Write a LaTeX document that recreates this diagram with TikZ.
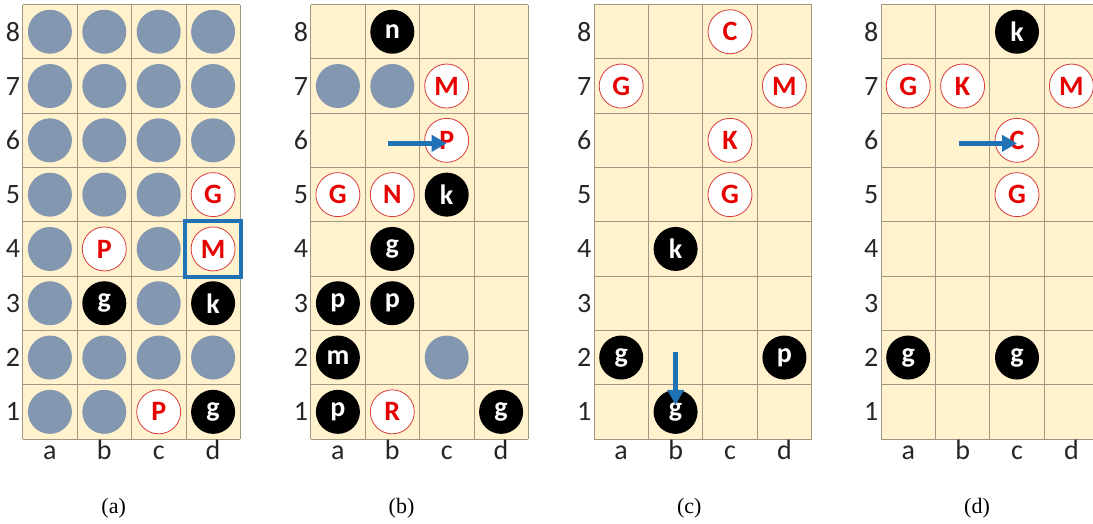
\documentclass[tikz,border=0pt]{standalone}
\usepackage{fontspec}
\setmainfont{Carlito}
\newfontfamily\capfont{Liberation Serif}
\usetikzlibrary{arrows.meta}
\definecolor{cBoard}{RGB}{255,242,204}
\definecolor{cGrid}{RGB}{160,150,130}
\definecolor{cHid}{RGB}{132,151,176}
\definecolor{cRed}{RGB}{230,0,0}
\definecolor{cRing}{RGB}{215,60,60}
\definecolor{cMove}{RGB}{33,113,181}

\begin{document}
\begin{tikzpicture}[x=1pt, y=1pt,
    hidpc/.style={circle, fill=cHid, minimum size=44pt, inner sep=0pt},
    redpc/.style={circle, draw=cRing, line width=0.8pt, fill=white, text=cRed, minimum size=44pt, inner sep=0pt, font=\bfseries\fontsize{28}{28}\selectfont},
    blkpc/.style={circle, fill=black, text=white, minimum size=44pt, inner sep=0pt, font=\bfseries\fontsize{28}{28}\selectfont},
    lbl/.style={inner sep=0pt, text=black!85, font=\fontsize{28}{28}\selectfont},
    caplbl/.style={inner sep=0pt, font=\capfont\fontsize{22}{22}\selectfont},
    mv/.style={draw=cMove, line width=4.5pt, -{Triangle[length=15pt, width=16pt]}},
    selbox/.style={draw=cMove, line width=4pt, minimum width=55.5pt, minimum height=56pt, inner sep=0pt}]
  \useasboundingbox (0,0) rectangle (1093,524);
  \clip (0,0) rectangle (1093,524);

  % boards, labels and cell centres
  \foreach \bd/\bx/\bl/\cx in {A/22.7/a/113.7, B/310.7/b/401.5, C/594/c/689.3, D/881/d/977} {
    \begin{scope}[shift={(\bx pt,85pt)}, x=54.4pt, y=54.3pt]
      \fill[cBoard] (0,0) rectangle (4,8);
      \draw[cGrid, line width=0.8pt, step=1] (0,0) grid (4,8);
      \foreach \r in {1,...,8}
        \node[lbl] (\bd-row\r) at (-0.18,\r-0.5) {\r};
      \foreach \c/\l in {1/a,2/b,3/c,4/d} {
        \node[lbl, anchor=base] (\bd-col\l) at (\c-0.5,-0.38) {\l};
        \foreach \r in {1,...,8}
          \coordinate (\bd-\l\r) at (\c-0.5,\r-0.5);
      }
    \end{scope}
    \node[caplbl] (cap-\bl) at (\cx,16) {(\bl)};
  }

  % (a)
  \foreach \s in {a8,b8,c8,d8,a7,b7,c7,d7,a6,b6,c6,d6,a5,b5,c5,a4,c4,a3,c3,a2,b2,c2,d2,a1,b1}
    \node[hidpc] (pA-\s) at (A-\s) {};
  \node[redpc] (pA-d5) at (A-d5) {G};
  \node[redpc] (pA-b4) at (A-b4) {P};
  \node[redpc] (pA-d4) at (A-d4) {M};
  \node[blkpc] (pA-b3) at (A-b3) {g};
  \node[blkpc] (pA-d3) at (A-d3) {k};
  \node[redpc] (pA-c1) at (A-c1) {P};
  \node[blkpc] (pA-d1) at (A-d1) {g};
  \node[selbox] (sel) at (A-d4) {};

  % (b)
  \node[blkpc] (pB-b8) at (B-b8) {n};
  \node[hidpc] (pB-a7) at (B-a7) {};
  \node[hidpc] (pB-b7) at (B-b7) {};
  \node[redpc] (pB-c7) at (B-c7) {M};
  \node[redpc] (pB-c6) at (B-c6) {P};
  \node[redpc] (pB-a5) at (B-a5) {G};
  \node[redpc] (pB-b5) at (B-b5) {N};
  \node[blkpc] (pB-c5) at (B-c5) {k};
  \node[blkpc] (pB-b4) at (B-b4) {g};
  \node[blkpc] (pB-a3) at (B-a3) {p};
  \node[blkpc] (pB-b3) at (B-b3) {p};
  \node[blkpc] (pB-a2) at (B-a2) {m};
  \node[hidpc] (pB-c2) at (B-c2) {};
  \node[blkpc] (pB-a1) at (B-a1) {p};
  \node[redpc] (pB-b1) at (B-b1) {R};
  \node[blkpc] (pB-d1) at (B-d1) {g};
  \draw[mv] ([shift={(-4pt,-3pt)}]B-b6) -- ([yshift=-3pt]B-c6);

  % (c)
  \node[redpc] (pC-c8) at (C-c8) {C};
  \node[redpc] (pC-a7) at (C-a7) {G};
  \node[redpc] (pC-d7) at (C-d7) {M};
  \node[redpc] (pC-c6) at (C-c6) {K};
  \node[redpc] (pC-c5) at (C-c5) {G};
  \node[blkpc] (pC-b4) at (C-b4) {k};
  \node[blkpc] (pC-a2) at (C-a2) {g};
  \node[blkpc] (pC-d2) at (C-d2) {p};
  \node[blkpc] (pC-b1) at (C-b1) {g};
  \draw[mv] ([yshift=6pt]C-b2) -- ([yshift=7pt]C-b1);

  % (d)
  \node[blkpc] (pD-c8) at (D-c8) {k};
  \node[redpc] (pD-a7) at (D-a7) {G};
  \node[redpc] (pD-b7) at (D-b7) {K};
  \node[redpc] (pD-d7) at (D-d7) {M};
  \node[redpc] (pD-c6) at (D-c6) {C};
  \node[redpc] (pD-c5) at (D-c5) {G};
  \node[blkpc] (pD-a2) at (D-a2) {g};
  \node[blkpc] (pD-c2) at (D-c2) {g};
  \draw[mv] ([shift={(-4pt,-3pt)}]D-b6) -- ([yshift=-3pt]D-c6);
\end{tikzpicture}
\end{document}
